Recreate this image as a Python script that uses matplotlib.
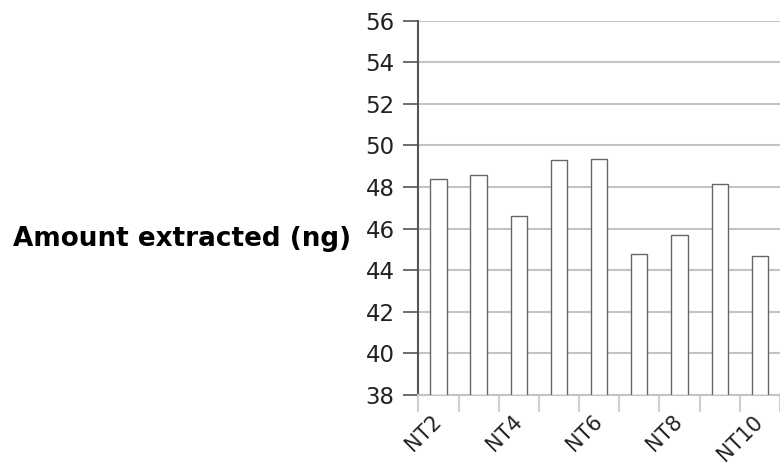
import matplotlib
matplotlib.use("Agg")
import matplotlib.pyplot as plt
import numpy as np

samples = ["NT2", "NT3", "NT4", "NT5", "NT6", "NT7", "NT8", "NT9", "NT10"]
amounts = [48.4, 48.56, 46.59, 49.31, 49.34, 44.8, 45.71, 48.13, 44.67]
y_ticks = [38, 40, 42, 44, 46, 48, 50, 52, 54, 56]

fig = plt.figure(figsize=(7.8, 4.68), dpi=100)
ax = fig.add_axes([0.5363, 0.156, 0.4637, 0.7998])

x = np.arange(len(samples))
ax.bar(x, [a - 38 for a in amounts], bottom=38, width=0.405,
       color="white", edgecolor="#666666", linewidth=1.0, zorder=3)

ax.set_ylim(38, 56)
ax.set_xlim(-0.5, len(samples) - 0.5)
ax.set_yticks(y_ticks)
ax.yaxis.grid(True, color="#c4c4c4", linewidth=1.5, zorder=0)
ax.set_axisbelow(True)

# labels on every other category, ticks on the boundaries
ax.set_xticks(x[::2])
ax.set_xticklabels(samples[::2], rotation=45, ha="right", va="center",
                   rotation_mode="anchor")
ax.set_xticks(np.arange(len(samples) + 1) - 0.5, minor=True)
ax.tick_params(axis="x", which="major", length=0, pad=17, labelsize=15,
               labelcolor="#222222")
ax.tick_params(axis="x", which="minor", length=12, width=1.5, color="#d0d0d0")
ax.tick_params(axis="y", length=11, width=1.2, color="#555555", pad=6,
               labelsize=16.5, labelcolor="#222222")

for s in ["top", "right"]:
    ax.spines[s].set_visible(False)
ax.spines["left"].set_color("#555555")
ax.spines["left"].set_linewidth(1.5)
ax.spines["bottom"].set_color("#c4c4c4")
ax.spines["bottom"].set_linewidth(1.5)

fig.text(0.017, 0.49, "Amount extracted (ng)", fontsize=18.9,
         fontweight="bold", ha="left", va="center")

fig.savefig("out.png", dpi=100)
